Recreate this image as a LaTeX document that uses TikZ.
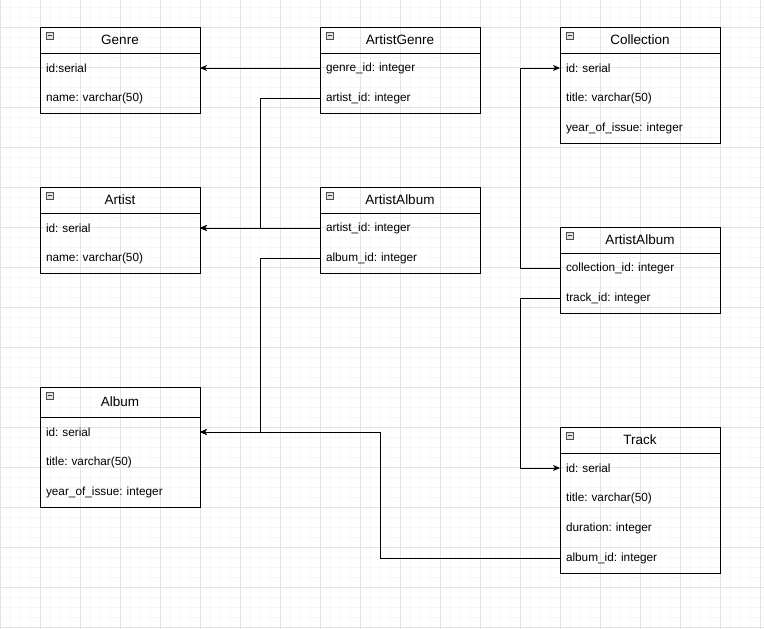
\documentclass[tikz,border=0pt]{standalone}
\usepackage{fontspec}
\setmainfont{Liberation Sans}
\usetikzlibrary{arrows.meta,positioning}
\frenchspacing

\tikzset{
  hdr/.style={draw, line width=0.9pt, minimum width=160pt, minimum height=26pt, inner sep=0pt, outer sep=0pt, anchor=north west, font=\fontsize{13.5}{15}\selectfont},
  fld/.style={minimum width=160pt, text width=148pt, minimum height=30pt, inner xsep=6pt, inner ysep=0pt, outer sep=0pt, align=left, font=\fontsize{11.8}{13}\selectfont},
  frame/.style={draw, line width=0.9pt},
  icon/.style={draw=black!70, fill=black!12, minimum size=7pt, inner sep=0pt, anchor=north west,
    path picture={\draw[black!75, line width=0.7pt] ([xshift=1.5pt]path picture bounding box.west) -- ([xshift=-1.5pt]path picture bounding box.east);}},
  fk/.style={line width=0.9pt, -{Stealth[length=7pt,width=6pt,inset=2pt]}},
  minor/.style={black!3, line width=0.5pt},
  major/.style={black!11, line width=0.6pt}
}

\begin{document}
\begin{tikzpicture}[x=1pt,y=-1pt]
        \useasboundingbox (0,0) rectangle (764,629);

        % background grid
        \foreach \gx in {0,10,...,760} \draw[minor] (\gx,0) -- (\gx,629);
        \foreach \gy in {7,17,...,627} \draw[minor] (0,\gy) -- (764,\gy);
        \foreach \gx in {0,40,...,760} \draw[major] (\gx,0) -- (\gx,629);
        \foreach \gy in {27,67,...,627} \draw[major] (0,\gy) -- (764,\gy);

        % bus lines for the connectors
        \coordinate (busL) at (260,0);
        \coordinate (busM) at (380,0);
        \coordinate (busR) at (520,0);

        % ================== Genre ==================
        \node[hdr] (genre) at (40,27) {Genre};
        \node[fld, below=0pt of genre] (genre-id) {id:serial};
        \node[fld, below=0pt of genre-id] (genre-name) {name: varchar(50)};
        \draw[frame] (genre.north west) rectangle (genre-name.south east);
        \node[icon] (genre-ico) at ([xshift=6pt,yshift=-5pt]genre.north west) {};

        % ================== ArtistGenre ==================
        \node[hdr] (ag) at (320,27) {ArtistGenre};
        \node[fld, below=0pt of ag] (ag-genre) {genre\_id: integer};
        \node[fld, below=0pt of ag-genre] (ag-artist) {artist\_id: integer};
        \draw[frame] (ag.north west) rectangle (ag-artist.south east);
        \node[icon] (ag-ico) at ([xshift=6pt,yshift=-5pt]ag.north west) {};

        % ================== Collection ==================
        \node[hdr] (coll) at (560,27) {Collection};
        \node[fld, below=0pt of coll] (coll-id) {id: serial};
        \node[fld, below=0pt of coll-id] (coll-title) {title: varchar(50)};
        \node[fld, below=0pt of coll-title] (coll-year) {year\_of\_issue: integer};
        \draw[frame] (coll.north west) rectangle (coll-year.south east);
        \node[icon] (coll-ico) at ([xshift=6pt,yshift=-5pt]coll.north west) {};

        % ================== Artist ==================
        \node[hdr] (artist) at (40,187) {Artist};
        \node[fld, below=0pt of artist] (artist-id) {id: serial};
        \node[fld, below=0pt of artist-id] (artist-name) {name: varchar(50)};
        \draw[frame] (artist.north west) rectangle (artist-name.south east);
        \node[icon] (artist-ico) at ([xshift=6pt,yshift=-5pt]artist.north west) {};

        % ================== ArtistAlbum (middle) ==================
        \node[hdr] (aa) at (320,187) {ArtistAlbum};
        \node[fld, below=0pt of aa] (aa-artist) {artist\_id: integer};
        \node[fld, below=0pt of aa-artist] (aa-album) {album\_id: integer};
        \draw[frame] (aa.north west) rectangle (aa-album.south east);
        \node[icon] (aa-ico) at ([xshift=6pt,yshift=-5pt]aa.north west) {};

        % ================== ArtistAlbum (right) ==================
        \node[hdr] (ct) at (560,227) {ArtistAlbum};
        \node[fld, below=0pt of ct] (ct-coll) {collection\_id: integer};
        \node[fld, below=0pt of ct-coll] (ct-track) {track\_id: integer};
        \draw[frame] (ct.north west) rectangle (ct-track.south east);
        \node[icon] (ct-ico) at ([xshift=6pt,yshift=-5pt]ct.north west) {};

        % ================== Album ==================
        \node[hdr, minimum height=30pt] (album) at (40,387) {Album};
        \node[fld, below=0pt of album] (album-id) {id: serial};
        \node[fld, below=0pt of album-id] (album-title) {title: varchar(50)};
        \node[fld, below=0pt of album-title] (album-year) {year\_of\_issue: integer};
        \draw[frame] (album.north west) rectangle (album-year.south east);
        \node[icon] (album-ico) at ([xshift=6pt,yshift=-5pt]album.north west) {};

        % ================== Track ==================
        \node[hdr] (track) at (560,427) {Track};
        \node[fld, below=0pt of track] (track-id) {id: serial};
        \node[fld, below=0pt of track-id] (track-title) {title: varchar(50)};
        \node[fld, below=0pt of track-title] (track-dur) {duration: integer};
        \node[fld, below=0pt of track-dur] (track-album) {album\_id: integer};
        \draw[frame] (track.north west) rectangle (track-album.south east);
        \node[icon] (track-ico) at ([xshift=6pt,yshift=-5pt]track.north west) {};

        % ================== connectors ==================
        \draw[fk] (ag-genre.west) -- (genre-id.east);
        \draw[fk] (ag-artist.west) -- (ag-artist.west -| busL) |- (artist-id.east);
        \draw[fk] (aa-artist.west) -- (artist-id.east);
        \draw[fk] (aa-album.west) -- (aa-album.west -| busL) |- (album-id.east);
        \draw[fk] (track-album.west) -- (track-album.west -| busM) |- (album-id.east);
        \draw[fk] (ct-coll.west) -- (ct-coll.west -| busR) |- (coll-id.west);
        \draw[fk] (ct-track.west) -- (ct-track.west -| busR) |- (track-id.west);

    \end{tikzpicture}
\end{document}
